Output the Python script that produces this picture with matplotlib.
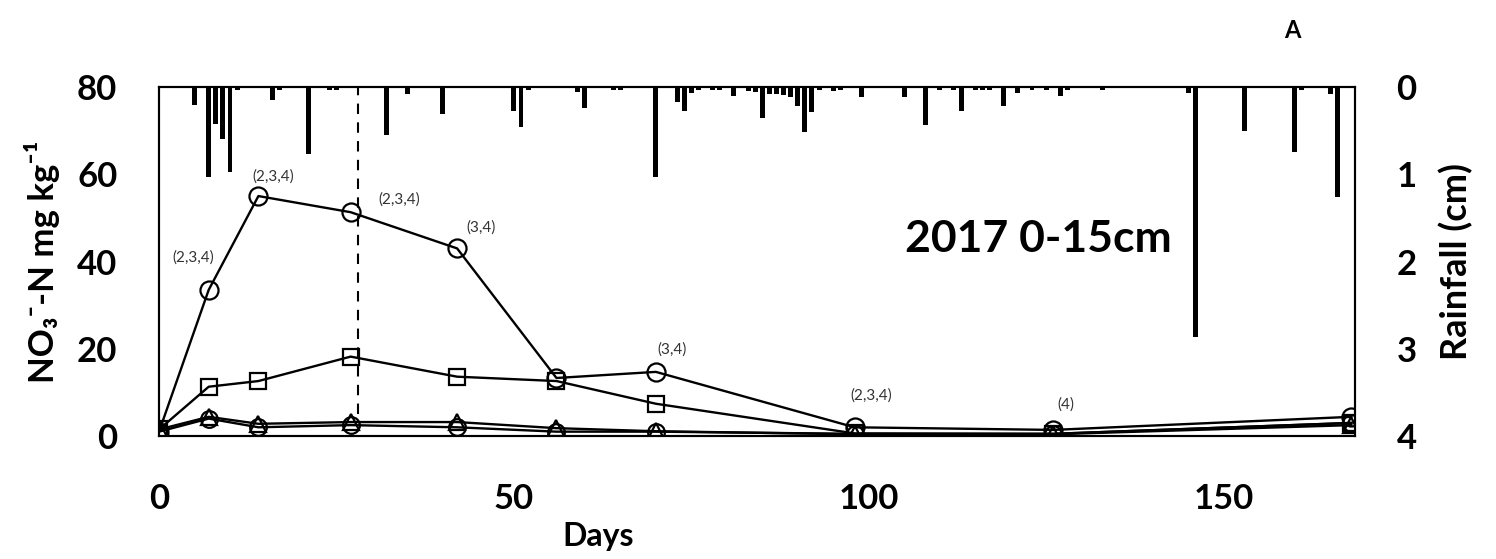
import matplotlib
matplotlib.use("Agg")
import matplotlib.pyplot as plt

plt.rcParams["font.family"] = ["Lato", "DejaVu Sans"]

# sampling days and NO3-N (mg/kg)
days = [0, 7, 14, 27, 42, 56, 70, 98, 126, 168]
circle_hi = [1.0, 33.5, 55.0, 51.3, 43.0, 13.3, 14.7, 2.0, 1.4, 4.4]
square = [1.5, 11.3, 12.6, 18.2, 13.6, 12.6, 7.4, 0.6, 0.5, 3.0]
triangle = [1.5, 4.4, 2.8, 3.2, 3.2, 1.8, 1.1, 0.4, 0.4, 2.5]
circle_lo = [1.0, 4.0, 2.0, 2.5, 2.0, 1.0, 1.0, 0.5, 0.5, 3.0]

# significance labels on the high circle series
sig_days = [7, 14, 27, 42, 70, 98, 126]
sig_text = ["(2,3,4)", "(2,3,4)", "(2,3,4)", "(3,4)", "(3,4)", "(2,3,4)", "(4)"]

# daily rainfall (cm)
rain_days = [5, 7, 8, 9, 10, 11, 16, 17, 21, 24, 25, 32, 35, 40,
             50, 51, 52, 59, 60, 64, 65, 70, 73, 74, 75, 76, 78, 79,
             81, 83, 84, 85, 86, 87, 88, 89, 90, 91, 92, 93, 95, 96,
             99, 105, 108, 110, 112, 113, 115, 116, 117, 119, 121, 123,
             125, 127, 128, 133, 145, 146, 153, 160, 161, 165, 166]
rain_cm = [0.21, 1.03, 0.42, 0.60, 0.97, 0.04, 0.15, 0.04, 0.77, 0.03, 0.03, 0.55, 0.08, 0.31,
           0.28, 0.46, 0.03, 0.06, 0.24, 0.03, 0.03, 1.03, 0.17, 0.28, 0.07, 0.03, 0.03, 0.03,
           0.10, 0.05, 0.06, 0.36, 0.08, 0.08, 0.09, 0.12, 0.22, 0.52, 0.29, 0.04, 0.05, 0.03,
           0.12, 0.12, 0.43, 0.03, 0.03, 0.28, 0.03, 0.04, 0.03, 0.22, 0.07, 0.03,
           0.03, 0.10, 0.03, 0.03, 0.07, 2.86, 0.50, 0.74, 0.04, 0.08, 1.26]

fig = plt.figure(figsize=(14.96, 5.59), dpi=100)
ax = fig.add_axes([0.1063, 0.22, 0.7994, 0.6244])

line_kw = dict(color="black", lw=1.7, markerfacecolor="none", markeredgecolor="black", mew=1.6)
ax.plot(days, circle_lo, marker="o", ms=12, **line_kw)
ax.plot(days, triangle, marker="^", ms=11, **line_kw)
ax.plot(days, square, marker="s", ms=12, **line_kw)
ax.plot(days, circle_hi, marker="o", ms=13, **line_kw)

# dashed line at day 28
ax.vlines(28, 5, 80, colors="black", linestyles=(0, (5, 4)), lw=1.5)

offsets = [(-11, 23), (11, 14), (35, 9), (17, 15), (12, 16), (12, 23), (9, 18)]
for d, t, off in zip(sig_days, sig_text, offsets):
    v = circle_hi[days.index(d)]
    ax.annotate(t, xy=(d, v), xytext=off, textcoords="offset points",
                ha="center", va="center", fontsize=11, color="#333333")

ax.set_xlim(0, 168.5)
ax.set_ylim(0, 80)
ax.set_xticks([0, 50, 100, 150])
ax.set_yticks([0, 20, 40, 60, 80])
ax.tick_params(length=0, labelsize=25, pad=30)
ax.tick_params(axis="x", pad=34)
for lab in ax.get_xticklabels() + ax.get_yticklabels():
    lab.set_fontweight("bold")

ax.set_xlabel("Days", fontsize=23, fontweight="bold", labelpad=2)
ax.xaxis.set_label_coords(0.367, -0.245)
ax.set_ylabel("NO\u2083\u207b-N mg kg\u207b\u00b9", fontsize=25, fontweight="bold", labelpad=12)

ax.text(0.735, 0.565, "2017 0-15cm", transform=ax.transAxes, fontsize=32,
        fontweight="bold", ha="center", va="center")
fig.text(0.864, 0.945, "A", fontsize=17, fontweight="bold", ha="center", va="center")

# rainfall on inverted right axis
ax2 = ax.twinx()
ax2.bar(rain_days, rain_cm, width=0.7, color="black")
ax2.set_ylim(4, 0)
ax2.set_yticks([0, 1, 2, 3, 4])
ax2.tick_params(length=0, labelsize=25, pad=30)
for lab in ax2.get_yticklabels():
    lab.set_fontweight("bold")
ax2.set_ylabel("Rainfall (cm)", fontsize=26, fontweight="bold", labelpad=16)

for a in (ax, ax2):
    for s in a.spines.values():
        s.set_linewidth(1.5)

fig.savefig("out.png", dpi=100)
